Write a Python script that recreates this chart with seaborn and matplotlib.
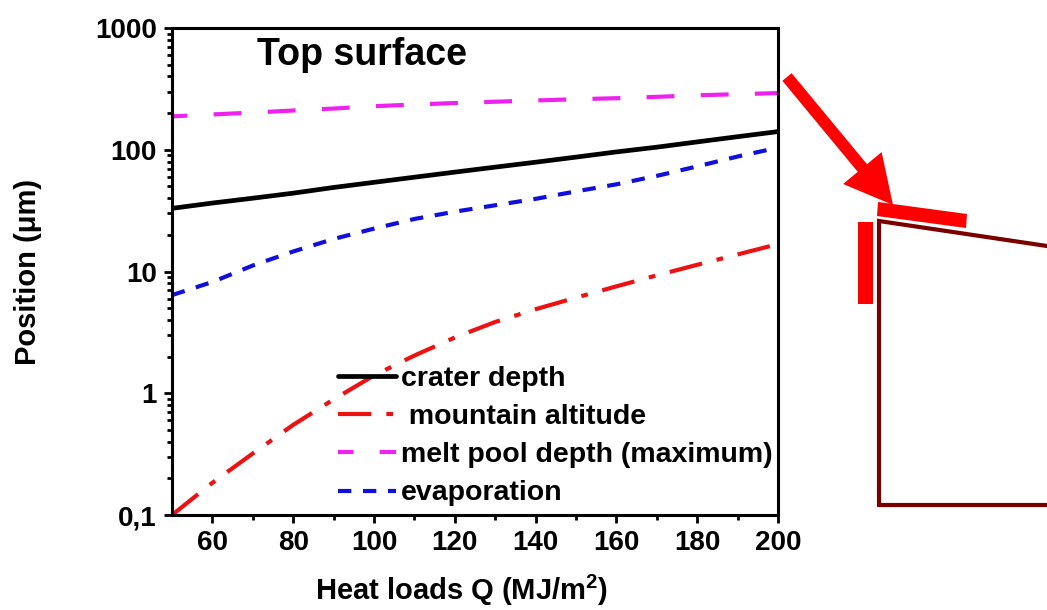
import numpy as np
import pandas as pd
import matplotlib
matplotlib.use("Agg")
import matplotlib.pyplot as plt
import matplotlib.ticker as mticker
from matplotlib.patches import FancyArrow, Polygon, Rectangle
from matplotlib.lines import Line2D
import seaborn as sns

# ---- data ----
heat_load = [50, 60, 70, 80, 90, 100, 110, 120, 130, 140, 150, 160, 170, 180, 190, 200]
crater_depth = [33, 36.5, 40, 44, 49, 54, 59.5, 65.5, 72, 79, 87, 96, 105, 116, 128, 141]
mountain_altitude = [0.1, 0.184, 0.32, 0.55, 0.89, 1.40, 2.04, 2.87, 3.85, 4.9, 6.1, 7.55, 9.3, 11.35, 13.8, 16.8]
melt_pool_depth = [188, 195, 202, 210, 218, 228, 235, 242, 248, 254, 260, 265, 272, 280, 286, 292]
evaporation = [6.4, 8.2, 11.2, 14.6, 18.5, 22.5, 27, 31, 35, 39.5, 45.5, 52, 61, 73, 88, 104]

series_labels = ["crater depth", " mountain altitude", "melt pool depth (maximum)", "evaporation"]
x_ticks = [60, 80, 100, 120, 140, 160, 180, 200]
x_minor_ticks = [70, 90, 110, 130, 150, 170, 190]
y_ticks = [0.1, 1, 10, 100, 1000]
y_tick_labels = ["0,1", "1", "10", "100", "1000"]

sns.set_theme(style="ticks")
plt.rcParams["font.family"] = ["Liberation Sans", "DejaVu Sans"]
plt.rcParams["font.weight"] = "bold"
plt.rcParams["text.color"] = "black"
plt.rcParams["axes.labelcolor"] = "black"
plt.rcParams["xtick.color"] = "black"
plt.rcParams["ytick.color"] = "black"
plt.rcParams["mathtext.fontset"] = "custom"
plt.rcParams["mathtext.rm"] = "Liberation Sans:bold"
plt.rcParams["mathtext.bf"] = "Liberation Sans:bold"
plt.rcParams["mathtext.it"] = "Liberation Sans:bold"

W, H = 1047, 610
fig = plt.figure(figsize=(W / 100, H / 100), dpi=100)
ax = fig.add_axes([172 / W, 95 / H, 606 / W, 487 / H])

lw = 3.0
styles = [
    dict(color="black", linestyle="-", lw=3.4),
    dict(color="#ee1111", linestyle=(0, (8, 3.6, 1.6, 3.6)), lw=lw),
    dict(color="#ee22ee", linestyle=(3, (6.7, 6.3)), lw=lw),
    dict(color="#1010dd", linestyle=(0, (3.2, 2.8)), lw=lw),
]
values = [crater_depth, mountain_altitude, melt_pool_depth, evaporation]
for vals, lab, st in zip(values, series_labels, styles):
    sns.lineplot(x=heat_load, y=vals, ax=ax, label=lab, dash_capstyle="butt", **st)

ax.set_yscale("log")
ax.set_xlim(50, 200)
ax.set_ylim(0.1, 1000)
ax.set_xticks(x_ticks)
ax.xaxis.set_minor_locator(mticker.FixedLocator(x_minor_ticks))
ax.set_yticks(y_ticks)
ax.set_yticklabels(y_tick_labels)
ax.yaxis.set_minor_locator(mticker.LogLocator(base=10, subs=np.arange(2, 10)))
ax.yaxis.set_minor_formatter(mticker.NullFormatter())

ax.tick_params(axis="both", which="major", direction="out", length=6, width=2,
               labelsize=20, pad=5, colors="black")
ax.tick_params(axis="both", which="minor", direction="out", length=3.5, width=2)
for lbl in ax.get_xticklabels() + ax.get_yticklabels():
    lbl.set_fontweight("bold")
for sp in ax.spines.values():
    sp.set_linewidth(2.2)
    sp.set_color("black")

ax.set_xlabel("Heat loads Q (MJ/m$^{2}$)", fontsize=21, fontweight="bold")
ax.set_ylabel("Position (\u03bcm)", fontsize=21, fontweight="bold")
ax.xaxis.set_label_coords(0.477, -0.118)
ax.yaxis.set_label_coords(-0.214, 0.5)

ax.text(0.14, 0.945, "Top surface", transform=ax.transAxes, fontsize=27,
        fontweight="bold", ha="left", va="center")

leg = ax.legend(loc="center left", bbox_to_anchor=(0.274, 0.162), frameon=False,
                fontsize=20.5, handlelength=2.05, handletextpad=0.15,
                labelspacing=0.43, borderpad=0, borderaxespad=0)
for t in leg.get_texts():
    t.set_fontweight("bold")
    t.set_color("black")

# ---- right-hand sketch (pixel overlay) ----
ov = fig.add_axes([0, 0, 1, 1], zorder=5)
ov.set_xlim(0, W)
ov.set_ylim(H, 0)
ov.axis("off")
ov.patch.set_alpha(0)

arrow_start = (787, 77)
arrow_end = (893, 205)
dx, dy = arrow_end[0] - arrow_start[0], arrow_end[1] - arrow_start[1]
ov.add_patch(FancyArrow(arrow_start[0], arrow_start[1], dx, dy, width=12,
                        head_width=50, head_length=48, length_includes_head=True,
                        color="red", lw=0))
ov.add_patch(Polygon([(878, 202), (967, 214), (966, 228), (877, 216)],
                     closed=True, color="red", lw=0))
ov.add_patch(Rectangle((858, 222), 15, 82, color="red", lw=0))
ov.add_line(Line2D([1047, 879, 879, 1047], [246, 221, 505, 505],
                   color="#7a0000", lw=3, solid_joinstyle="miter"))

fig.savefig("out.png", dpi=100)
